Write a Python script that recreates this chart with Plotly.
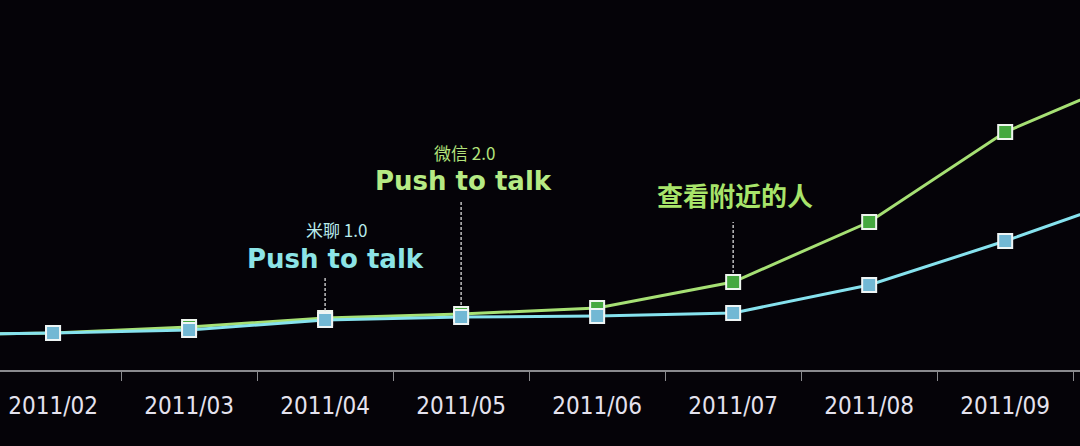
import plotly.graph_objects as go

months = ["2011/01", "2011/02", "2011/03", "2011/04", "2011/05",
          "2011/06", "2011/07", "2011/08", "2011/09", "2011/10"]
wechat = [35, 37, 43, 52, 56, 62, 88, 148, 238, 296]
mitalk = [35, 37, 40, 50, 53, 54, 57, 85, 129, 177]

BG = "#050308"
GREEN_LINE = "#a6e074"
GREEN_FILL = "#45a83f"
BLUE_LINE = "#86e2ee"
BLUE_FILL = "#72b8d4"

fig = go.Figure()
fig.add_trace(go.Scatter(
    x=months, y=wechat, mode="lines+markers", name="微信",
    line=dict(color=GREEN_LINE, width=3),
    marker=dict(symbol="square", size=14, color=GREEN_FILL,
                line=dict(color="#eef5ee", width=2)),
    cliponaxis=False,
))
fig.add_trace(go.Scatter(
    x=months, y=mitalk, mode="lines+markers", name="米聊",
    line=dict(color=BLUE_LINE, width=3),
    marker=dict(symbol="square", size=14, color=BLUE_FILL,
                line=dict(color="#eef5f5", width=2)),
    cliponaxis=False,
))

# (month, series, dashed-line top offset, big-label offset, small-label offset, xshift, small, big, colours)
events = [
    ("2011/04", mitalk, 42, 61, 91, 10, "米聊 1.0", "Push to talk", "#b8ecec", "#8ce4e6"),
    ("2011/05", wechat, 114, 133, 162, 2, "微信 2.0", "Push to talk", "#b4e47c", "#b6ea84"),
    ("2011/07", wechat, 60, 88, None, 2, None, "查看附近的人", None, "#a8e46a"),
]

for m, series, dtop, bigoff, smalloff, xs, small, big, csmall, cbig in events:
    i = months.index(m)
    yv = series[i]
    fig.add_shape(type="line", xref="x", yref="y", x0=m, x1=m,
                  y0=yv + 9, y1=yv + dtop,
                  line=dict(color="#dcdcdc", width=1.3, dash="3px,2px"))
    if small:
        fig.add_annotation(x=m, y=yv + bigoff, xref="x", yref="y",
                           text=f"<b>{big}</b>", showarrow=False,
                           font=dict(family="'DejaVu Sans'", size=26, color=cbig),
                           xshift=xs)
        fig.add_annotation(x=m, y=yv + smalloff, xref="x", yref="y",
                           text=small, showarrow=False,
                           font=dict(family="'Noto Sans CJK SC', 'Noto Sans'", size=17, color=csmall),
                           xshift=xs + 1)
    else:
        fig.add_annotation(x=m, y=yv + bigoff, xref="x", yref="y",
                           text=f"<b>{big}</b>", showarrow=False,
                           font=dict(family="'Noto Sans CJK SC'", size=26, color=cbig),
                           xshift=xs)

fig.update_layout(
    width=1080, height=446,
    paper_bgcolor=BG, plot_bgcolor=BG,
    margin=dict(l=0, r=0, t=0, b=76),
    showlegend=False,
    xaxis=dict(
        type="category", range=[0.61, 8.55],
        showgrid=False, zeroline=False,
        showline=True, linecolor="#8a8a8e", linewidth=1.5,
        ticks="outside", tickson="boundaries", ticklen=9, tickcolor="#8a8a8e",
        tickfont=dict(family="'DejaVu Sans Condensed', 'DejaVu Sans'", size=24, color="#e4e2ee"),
        ticklabelstandoff=13,
    ),
    yaxis=dict(range=[0, 370], visible=False, showgrid=False, zeroline=False),
)

fig.write_html(
    "out.html",
    config={"displayModeBar": False},
    post_script="document.body.style.margin='0';document.body.style.background='#050308';",
)
